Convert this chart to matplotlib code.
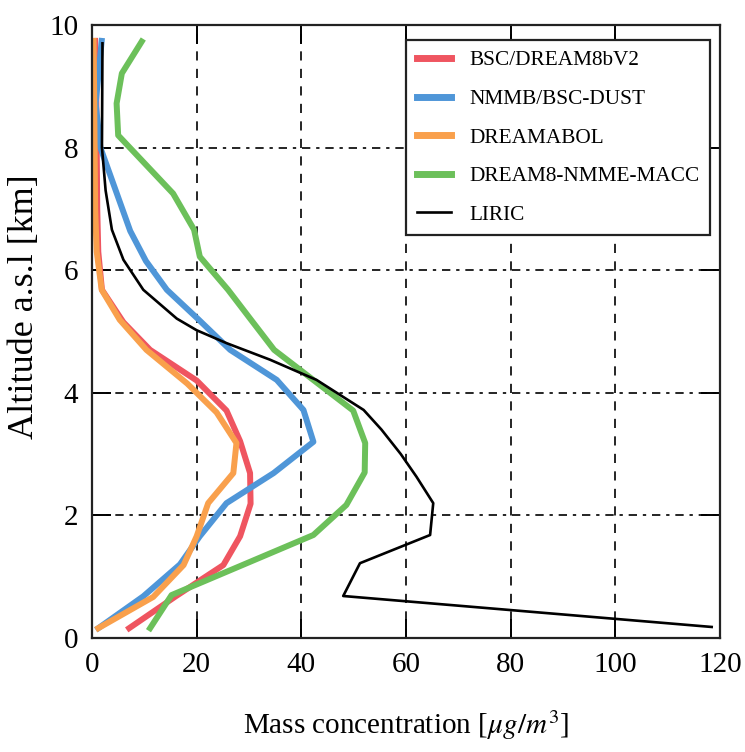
import numpy as np
import matplotlib
matplotlib.use("Agg")
import matplotlib.pyplot as plt

plt.rcParams['font.family'] = ['Liberation Serif', 'DejaVu Serif']
plt.rcParams['mathtext.fontset'] = 'stix'

# altitude (km) and mass concentration (ug/m3)
alt_red = [0.16, 0.68, 1.19, 1.66, 2.19, 2.69, 3.21, 3.71, 4.20, 4.70, 5.15, 5.68, 6.30, 7.0, 8.0, 9.0, 9.74]
red = [7.1, 16.0, 25.1, 28.3, 30.3, 30.2, 28.3, 25.7, 20.0, 11.1, 6.0, 1.9, 1.2, 1.0, 0.9, 0.8, 0.6]

alt_blue = [0.16, 0.68, 1.20, 1.66, 2.20, 2.69, 3.20, 3.72, 4.21, 4.70, 5.20, 5.68, 6.15, 6.64, 7.26, 8.0, 8.72, 9.74]
blue = [1.2, 9.8, 16.8, 20.6, 25.7, 34.7, 42.3, 40.4, 35.3, 26.4, 20.3, 14.3, 10.3, 7.3, 4.7, 1.6, 0.7, 1.85]

alt_orange = [0.16, 0.67, 1.19, 1.66, 2.20, 2.69, 3.18, 3.68, 4.15, 4.70, 5.19, 5.68, 6.30, 7.0, 8.0, 9.0, 9.74]
orange = [1.2, 11.7, 17.5, 20.0, 22.2, 27.0, 27.6, 23.8, 18.2, 10.4, 5.3, 1.85, 0.9, 0.6, 0.5, 0.4, 0.3]

alt_green = [0.16, 0.70, 1.68, 2.17, 2.70, 3.18, 3.71, 4.70, 5.20, 5.68, 6.22, 6.66, 7.25, 8.20, 8.72, 9.21, 9.73]
green = [11.1, 15.2, 42.3, 48.6, 52.1, 52.2, 49.9, 34.8, 30.3, 26.0, 20.6, 19.5, 15.5, 5.0, 4.7, 5.7, 9.5]

alt_liric = [0.18, 0.685, 1.22, 1.68, 2.20, 2.63, 3.00, 3.40, 3.72, 4.21, 4.54, 4.81, 5.02, 5.21, 5.68, 6.17, 6.66, 7.30, 8.0, 9.70]
liric = [118.4, 48.0, 51.2, 64.6, 65.2, 62.0, 59.0, 55.3, 51.9, 42.9, 34.0, 25.7, 20.0, 16.2, 9.8, 6.0, 3.8, 2.6, 1.9, 2.0]

fig = plt.figure(figsize=(7.45, 7.52), dpi=100)
ax = fig.add_axes([0.1235, 0.1516, 0.8430, 0.8152])

ax.plot(red, alt_red, color='#EF5560', lw=4.3, label='BSC/DREAM8bV2')
ax.plot(blue, alt_blue, color='#4F96D8', lw=4.3, label='NMMB/BSC-DUST')
ax.plot(orange, alt_orange, color='#F9A04C', lw=4.3, label='DREAMABOL')
ax.plot(green, alt_green, color='#6CC05A', lw=4.3, label='DREAM8-NMME-MACC')
ax.plot(liric, alt_liric, color='black', lw=1.9, label='LIRIC')

ax.set_xlim(0, 120)
ax.set_ylim(0, 10)
ax.set_xticks(np.arange(0, 121, 20))
ax.set_yticks(np.arange(0, 11, 2))

# grid: dashed verticals, dash-dot horizontals
for xv in np.arange(20, 120, 20):
    ax.axvline(xv, color='black', lw=1.2, ls=(0, (5.5, 5)), zorder=0)
for yv in np.arange(2, 10, 2):
    ax.axhline(yv, color='black', lw=1.2, ls=(0, (5, 3.5, 2, 3.5)), zorder=0)

ax.tick_params(direction='in', length=14, width=1.4, top=True, right=True,
               labelsize=21, pad=10)
for s in ax.spines.values():
    s.set_linewidth(1.6)
    s.set_color('#222222')

ax.set_xlabel(r'Mass concentration [$\mu g/m^3$]', fontsize=21, labelpad=22)
ax.set_ylabel('Altitude a.s.l [km]', fontsize=26)
ax.yaxis.set_label_coords(-0.082, 0.54)

leg = ax.legend(loc='upper right', fontsize=15.3, handlelength=1.6, handletextpad=0.85,
                borderpad=0.5, labelspacing=0.88, fancybox=False, borderaxespad=0,
                bbox_to_anchor=(0.984, 0.9755), framealpha=1)
leg.get_frame().set_edgecolor('#222222')
leg.get_frame().set_linewidth(1.6)
for h in leg.get_lines()[:4]:
    h.set_linewidth(5)

fig.savefig('out.png', dpi=100)
